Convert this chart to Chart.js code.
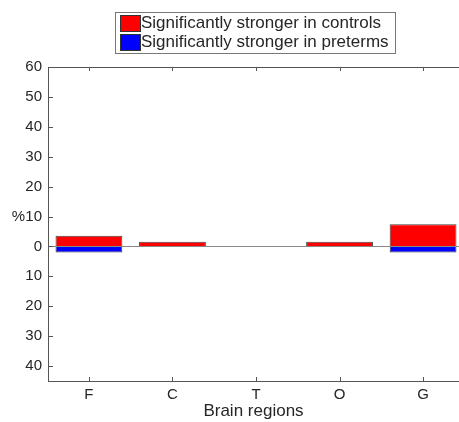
<!DOCTYPE html>
<html>
<head>
<meta charset="utf-8">
<script src="https://cdn.jsdelivr.net/npm/chart.js@4"></script>
<style>
  body { margin: 0; background: #fff; }
  #wrap { width: 459px; height: 422px; }
</style>
</head>
<body>
<div id="wrap"><canvas id="chart" width="459" height="422"></canvas></div>
<script>
let regions = ['F', 'C', 'T', 'O', 'G']
let controls = [3.6, 1.6, null, 1.6, 7.4]
let preterms = [-2, null, null, null, -2]
let yTicks = [60, 50, 40, 30, 20, 10, 0, -10, -20, -30, -40]

let FONT = '"Liberation Sans", Arial, Helvetica, sans-serif'
let INK = '#262626'

function toPoints(values) {
    return values.map((v, i) => ({x: i + 1, y: v}))
}

let matlabFrame = {
    id: 'matlabFrame',
    afterDraw(chart) {
        let ctx = chart.ctx
        let area = chart.chartArea
        let xs = chart.scales.x
        let ys = chart.scales.y
        ctx.save()
        ctx.strokeStyle = '#555'
        ctx.lineWidth = 1
        // top border
        ctx.beginPath()
        ctx.moveTo(area.left, area.top + 0.5)
        ctx.lineTo(area.right, area.top + 0.5)
        ctx.stroke()
        // inward tick marks
        ctx.beginPath()
        regions.forEach((r, i) => {
            let px = Math.round(xs.getPixelForValue(i + 1)) + 0.5
            ctx.moveTo(px, area.bottom)
            ctx.lineTo(px, area.bottom - 4)
            ctx.moveTo(px, area.top)
            ctx.lineTo(px, area.top + 4)
        })
        yTicks.forEach(v => {
            let py = Math.round(ys.getPixelForValue(v)) + 0.5
            ctx.moveTo(area.left, py)
            ctx.lineTo(area.left + 5, py)
        })
        ctx.stroke()
        // "%" label next to the 10 tick
        ctx.fillStyle = INK
        ctx.font = '15px ' + FONT
        ctx.textAlign = 'right'
        ctx.textBaseline = 'middle'
        ctx.fillText('%', 25, ys.getPixelForValue(10))
        // legend box
        let items = chart.data.datasets
        ctx.font = '17px ' + FONT
        ctx.textAlign = 'left'
        ctx.fillStyle = '#fff'
        ctx.fillRect(115, 12, 280, 41)
        ctx.strokeStyle = '#777'
        ctx.strokeRect(115.5, 12.5, 280, 41)
        items.forEach((ds, i) => {
            let top = 15 + i * 19
            ctx.fillStyle = ds.backgroundColor
            ctx.fillRect(120, top, 20, 16)
            ctx.strokeStyle = '#333'
            ctx.strokeRect(120.5, top + 0.5, 20, 16)
            ctx.fillStyle = INK
            ctx.fillText(ds.label, 141, top + 8.5)
        })
        ctx.restore()
    }
}

new Chart(document.getElementById('chart'), {
    type: 'bar',
    data: {
        datasets: [
            {
                label: 'Significantly stronger in controls',
                data: toPoints(controls),
                backgroundColor: '#ff0000',
                borderColor: '#444',
                borderWidth: 1,
                grouped: false,
                categoryPercentage: 0.8,
                barPercentage: 1
            },
            {
                label: 'Significantly stronger in preterms',
                data: toPoints(preterms),
                backgroundColor: '#0000ff',
                borderColor: '#444',
                borderWidth: 1,
                grouped: false,
                categoryPercentage: 0.8,
                barPercentage: 1
            }
        ]
    },
    options: {
        responsive: false,
        animation: false,
        layout: {padding: {top: 67, left: 0, right: 0, bottom: 0}},
        plugins: {
            legend: {display: false},
            tooltip: {enabled: false}
        },
        scales: {
            x: {
                type: 'linear',
                offset: false,
                min: 0.51,
                max: 5.43,
                afterBuildTicks: scale => {
                    scale.ticks = regions.map((r, i) => ({value: i + 1}))
                },
                afterFit: scale => { scale.height = 41 },
                ticks: {
                    callback: v => regions[v - 1],
                    color: INK,
                    font: {family: FONT, size: 15},
                    padding: 5,
                    maxRotation: 0
                },
                grid: {display: false, drawTicks: false},
                border: {display: true, color: '#555'},
                title: {
                    display: true,
                    text: 'Brain regions',
                    color: INK,
                    font: {family: FONT, size: 17},
                    padding: {top: 0, bottom: 0}
                }
            },
            y: {
                min: -45,
                max: 60,
                afterBuildTicks: scale => {
                    scale.ticks = yTicks.map(v => ({value: v}))
                },
                afterFit: scale => { scale.width = 48 },
                ticks: {
                    callback: v => Math.abs(v),
                    color: INK,
                    font: {family: FONT, size: 15},
                    padding: 6
                },
                grid: {
                    drawTicks: false,
                    color: c => c.tick && c.tick.value === 0 ? '#888' : 'rgba(0,0,0,0)'
                },
                border: {display: true, color: '#555'}
            }
        }
    },
    plugins: [matlabFrame]
})
</script>
</body>
</html>
